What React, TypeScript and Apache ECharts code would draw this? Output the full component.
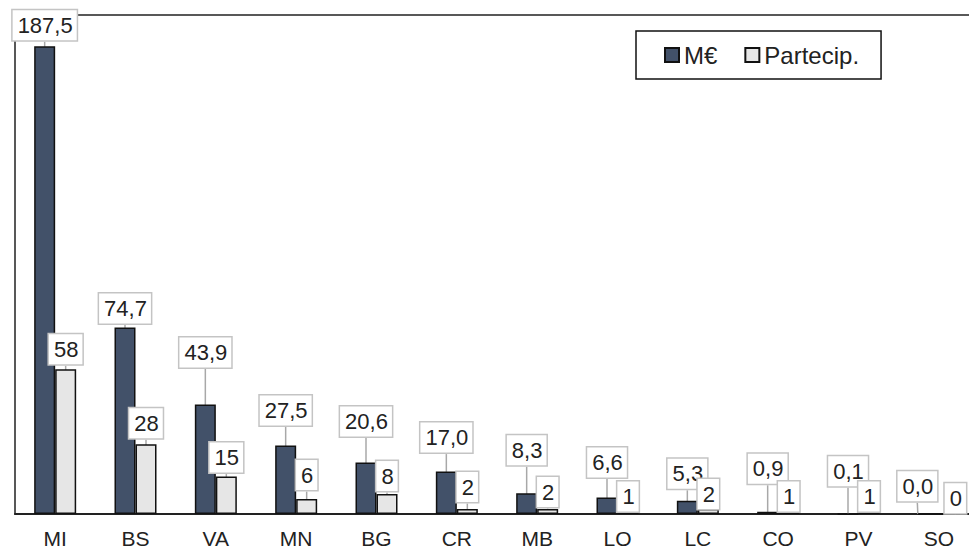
import React, { useEffect, useRef } from "react";
import * as echarts from "echarts";

const provinces = ["MI", "BS", "VA", "MN", "BG", "CR", "MB", "LO", "LC", "CO", "PV", "SO"];
const millionsEuro = [187.5, 74.7, 43.9, 27.5, 20.6, 17.0, 8.3, 6.6, 5.3, 0.9, 0.1, 0.0];
const participations = [58, 28, 15, 6, 8, 2, 2, 1, 2, 1, 1, 0];

// how far each label box is lifted above its bar (px)
const euroLabelLift = [6, 4, 37, 20, 26, 19, 28, 20, 12, 28, 27, 12];
const partLabelLift = [5, 6, 4, 9, 3, 7, 2, 0, 0, 0, 0, 0];
// sideways nudge for crowded labels (px)
const euroLabelShift = [0, 0, 0, 0, 0, 0, 0, 0, 0, 0, 0, -11];
const partLabelShift = [0, 0, 0, 0, 0, 0, 0, 0, 0, 0, 0, 6];

const FONT = "'Liberation Sans', Arial, sans-serif";

const boxLabel = {
  show: true,
  position: "top",
  distance: 0,
  fontFamily: FONT,
  fontSize: 22,
  color: "#222",
  backgroundColor: "#fff",
  borderColor: "#c4c4c4",
  borderWidth: 1.5,
  padding: [4, 4, 4, 5],
};

export default function App() {
  const ref = useRef<HTMLDivElement>(null);

  useEffect(() => {
    if (!ref.current) return;
    const chart = echarts.init(ref.current, null, { renderer: "svg" });
    chart.setOption({
      animation: false,
      backgroundColor: "#fff",
      grid: {
        show: true,
        left: 15,
        right: 0,
        top: 15,
        bottom: 32,
        borderColor: "#222",
        borderWidth: 1.5,
        backgroundColor: "transparent",
      },
      legend: {
        left: 636,
        top: 31,
        orient: "horizontal",
        borderColor: "#111",
        borderWidth: 1.5,
        borderRadius: 0,
        padding: [12, 22, 12, 28],
        itemWidth: 14,
        itemHeight: 14,
        itemGap: 27,
        icon: "rect",
        textStyle: { fontFamily: FONT, fontSize: 24, color: "#222" },
        data: ["M€", "Partecip."],
      },
      xAxis: {
        type: "category",
        data: provinces,
        axisLine: { show: true, lineStyle: { color: "#222", width: 2 } },
        axisTick: { show: false },
        axisLabel: { fontFamily: FONT, fontSize: 21, color: "#222", margin: 14 },
      },
      yAxis: {
        type: "value",
        min: 0,
        max: 200,
        show: false,
        splitLine: { show: false },
      },
      series: [
        {
          name: "M€",
          type: "bar",
          data: millionsEuro,
          barWidth: 21,
          barGap: "0%",
          itemStyle: { color: "#425169", borderColor: "#111", borderWidth: 1.5 },
          label: {
            ...boxLabel,
            formatter: (p: any) => Number(p.value).toFixed(1).replace(".", ","),
          },
          labelLine: { show: true, lineStyle: { color: "#a8a8a8", width: 1.5 } },
          labelLayout: (p: any) => ({
            dx: euroLabelShift[p.dataIndex],
            dy: -euroLabelLift[p.dataIndex],
          }),
        },
        {
          name: "Partecip.",
          type: "bar",
          data: participations,
          barWidth: 21,
          barGap: "0%",
          itemStyle: { color: "#e6e6e6", borderColor: "#111", borderWidth: 1.5 },
          label: {
            ...boxLabel,
            formatter: (p: any) => String(p.value),
          },
          labelLine: { show: true, lineStyle: { color: "#a8a8a8", width: 1.5 } },
          labelLayout: (p: any) => ({
            dx: partLabelShift[p.dataIndex],
            dy: -partLabelLift[p.dataIndex],
          }),
        },
      ],
    });
    return () => chart.dispose();
  }, []);

  // the plot frame runs past the right edge of the view, so only its top line shows there
  return (
    <div
      style={{
        position: "absolute",
        left: 0,
        top: 0,
        width: 969,
        height: 549,
        overflow: "hidden",
      }}
    >
      <div ref={ref} style={{ width: 979, height: 549 }} />
    </div>
  );
}
